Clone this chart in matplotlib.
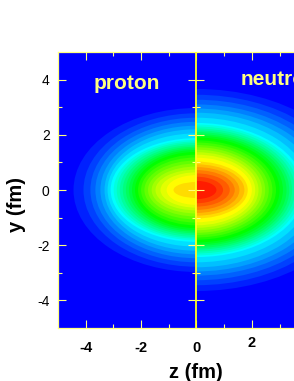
import matplotlib
matplotlib.use('Agg')
import matplotlib.pyplot as plt
from matplotlib.colors import LinearSegmentedColormap
from matplotlib.patches import Ellipse
from matplotlib.transforms import Bbox, TransformedBbox

plt.rcParams['font.family'] = ['Liberation Sans', 'DejaVu Sans']
plt.rcParams['axes.unicode_minus'] = False

# Semi-axes (fm) of the filled contours, outermost level first
proton_z = [4.44, 4.08, 3.83, 3.65, 3.47, 3.32, 3.21, 3.10,
            2.99, 2.88, 2.77, 2.66, 2.55, 2.44, 2.33, 2.22,
            2.11, 2.00, 1.88, 1.75, 1.62, 1.48, 1.30, 1.08, 0.83]
proton_y = [2.97, 2.78, 2.62, 2.47, 2.33, 2.20, 2.05, 1.88,
            1.82, 1.76, 1.70, 1.63, 1.57, 1.51, 1.45, 1.38,
            1.28, 1.18, 1.07, 0.96, 0.85, 0.74, 0.64, 0.54, 0.29]
neutron_z = [5.80, 5.40, 5.10, 4.85, 4.60, 4.35, 4.10, 3.89,
             3.78, 3.67, 3.56, 3.45, 3.35, 3.25, 3.12, 3.00,
             2.87, 2.74, 2.61, 2.48, 2.36, 2.24, 2.12, 2.00,
             1.85, 1.73, 1.55, 1.38, 1.20, 0.96, 0.72]
neutron_y = [3.66, 3.45, 3.27, 3.10, 2.95, 2.80, 2.62, 2.43,
             2.37, 2.30, 2.23, 2.16, 2.10, 2.03, 1.97, 1.90,
             1.80, 1.72, 1.63, 1.55, 1.46, 1.37, 1.28, 1.17,
             1.03, 0.93, 0.83, 0.72, 0.60, 0.48, 0.33]
n_levels = 32

y_ticks = [-4, -2, 0, 2, 4]
y_minor = [-3, -1, 1, 3]
x_ticks = [-4, -2, 0, 2]
x_minor = [-3, -1, 1, 3]
x_labels = ['-4', '-2', '0', '2']

rainbow = LinearSegmentedColormap.from_list('rainbow_origin', ['#0000ff', '#00ffff', '#00ff00', '#ffff00', '#ff0000'])
pale = '#ffff80'

fig = plt.figure(figsize=(2.94, 3.81), dpi=100)
ax = fig.add_axes([58 / 294, 53 / 381, 236 / 294, 276 / 381])
ax.set_xlim(-5, 3.52)
ax.set_ylim(-5, 5)
ax.set_facecolor('#0000ff')

# Left half is the proton density, right half the neutron density
left_box = TransformedBbox(Bbox([[-5, -5], [0, 5]]), ax.transData)
right_box = TransformedBbox(Bbox([[0, -5], [3.52, 5]]), ax.transData)
for zs, ys, box in [(proton_z, proton_y, left_box), (neutron_z, neutron_y, right_box)]:
    for i, (a, b) in enumerate(zip(zs, ys)):
        e = Ellipse((0, 0), 2 * a, 2 * b, facecolor=rainbow((i + 1) / n_levels), edgecolor='none', zorder=1)
        ax.add_patch(e)
        e.set_clip_box(box)

ax.axvline(0, color='#ffff20', lw=1.3, zorder=6)

for side in ['left', 'top', 'bottom']:
    ax.spines[side].set_color(pale)
    ax.spines[side].set_linewidth(0.9)
ax.spines['right'].set_visible(False)

ax.set_xticks(x_ticks)
ax.set_xticks(x_minor, minor=True)
ax.set_yticks(y_ticks)
ax.set_yticks(y_minor, minor=True)
ax.tick_params(axis='x', which='major', direction='in', top=True, length=5.5, width=0.8, color=pale, labelbottom=False)
ax.tick_params(axis='x', which='minor', direction='in', top=True, length=3, width=0.8, color=pale)
ax.tick_params(axis='y', which='major', direction='in', length=5.5, width=0.8, color=pale, labelsize=10, pad=6)
ax.tick_params(axis='y', which='minor', direction='in', length=3, width=0.8, color=pale)

# Ticks on the centre line
center = ax.secondary_yaxis(5 / 8.52)
center.set_yticks(y_ticks)
center.set_yticks(y_minor, minor=True)
center.tick_params(axis='y', which='major', direction='inout', length=11.5, width=0.8, color=pale, labelleft=False, labelright=False)
center.tick_params(axis='y', which='minor', direction='inout', length=6, width=0.8, color=pale)
center.spines['left'].set_visible(False)
center.spines['right'].set_visible(False)
center.set_zorder(5)

# x labels sit lower on the proton side, the last one is higher as in the original
offsets = [-17, -17, -17, -14]
for x, lab, off in zip(x_ticks, x_labels, offsets):
    ax.annotate(lab, (x, -5), xytext=(0, off), textcoords='offset points', ha='center', va='baseline',
                fontsize=10.5, fontweight='bold', annotation_clip=False)

fig.text(196 / 294, 1 - 378 / 381, 'z (fm)', ha='center', va='baseline', fontsize=14.5, fontweight='bold')
fig.text(16 / 294, 1 - 205 / 381, 'y (fm)', ha='center', va='center', rotation=90, fontsize=14.5, fontweight='bold')
ax.text(-2.52, 3.85, 'proton', color=pale, ha='center', va='center', fontsize=15, fontweight='bold', zorder=4)
ax.text(1.58, 4.0, 'neutron', color=pale, ha='left', va='center', fontsize=15, fontweight='bold', zorder=4, clip_on=True)

fig.savefig('out.png', dpi=100)
